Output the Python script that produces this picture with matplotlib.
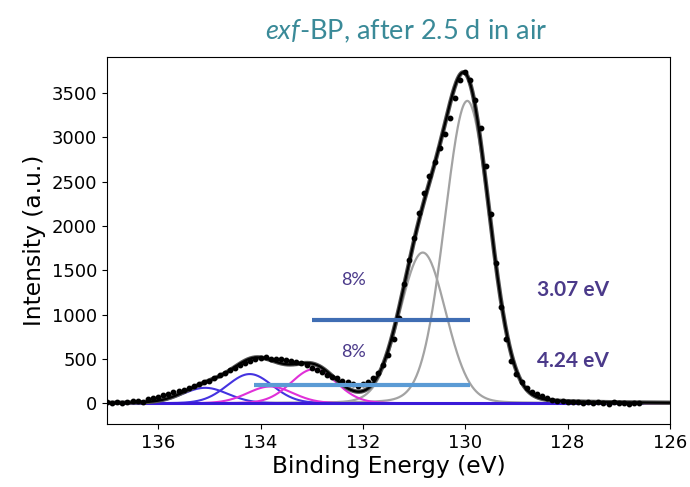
import numpy as np
import matplotlib
matplotlib.use("Agg")
import matplotlib.pyplot as plt

plt.rcParams['mathtext.fontset'] = 'custom'
plt.rcParams['mathtext.it'] = 'Lato:italic'
plt.rcParams['mathtext.rm'] = 'Lato'

# ---- measured data (binding energy, intensity) ----
energy = [137.0, 136.9, 136.8, 136.7, 136.6, 136.5, 136.4, 136.3, 136.2, 136.1,
          136.0, 135.9, 135.8, 135.7, 135.6, 135.5, 135.4, 135.3, 135.2, 135.1,
          135.0, 134.9, 134.8, 134.7, 134.6, 134.5, 134.4, 134.3, 134.2, 134.1,
          134.0, 133.9, 133.8, 133.7, 133.6, 133.5, 133.4, 133.3, 133.2, 133.1,
          133.0, 132.9, 132.8, 132.7, 132.6, 132.5, 132.4, 132.3, 132.2, 132.1,
          132.0, 131.9, 131.8, 131.7, 131.6, 131.5, 131.4, 131.3, 131.2, 131.1,
          131.0, 130.9, 130.8, 130.7, 130.6, 130.5, 130.4, 130.3, 130.2, 130.1,
          130.0, 129.9, 129.8, 129.7, 129.6, 129.5, 129.4, 129.3, 129.2, 129.1,
          129.0, 128.9, 128.8, 128.7, 128.6, 128.5, 128.4, 128.3, 128.2, 128.1,
          128.0, 127.9, 127.8, 127.7, 127.6, 127.5, 127.4, 127.3, 127.2, 127.1,
          127.0, 126.9, 126.8, 126.7, 126.6]
intensity = [15, 5, 20, 0, 10, 25, 30, 20, 45, 55,
             70, 90, 110, 125, 140, 155, 170, 190, 215, 235,
             250, 280, 320, 345, 380, 400, 430, 455, 475, 500,
             510, 520, 505, 495, 500, 490, 475, 465, 455, 430,
             400, 380, 350, 320, 300, 280, 255, 235, 220, 200,
             215, 240, 290, 340, 430, 540, 720, 960, 1340, 1620,
             1860, 2150, 2370, 2560, 2720, 2880, 3040, 3220, 3440, 3650,
             3740, 3650, 3420, 3100, 2680, 2130, 1580, 1090, 730, 480,
             330, 240, 170, 125, 105, 80, 60, 42, 30, 25,
             15, 10, 15, 5, 10, 0, 10, 5, -5, 10,
             0, 5, -5, 5, 0]

# ---- fitted components: centre (eV), height, FWHM (eV) ----
p_centres = [129.96, 130.83]
p_heights = [3410, 1700]
p_fwhm = [1.04, 1.06]

blue_centres = [134.21, 135.08]
blue_heights = [330, 175]
magenta_centres = [132.96, 133.81]
magenta_heights = [385, 190]
ox_fwhm = 1.05

bar_dark = [133.0, 129.9, 940]
bar_light = [134.13, 129.9, 204]

def pv(x, c, h, w, m=0.08):
    g = np.exp(-4 * np.log(2) * ((x - c) / w) ** 2)
    l = 1.0 / (1.0 + 4 * ((x - c) / w) ** 2)
    return h * (m * l + (1 - m) * g)

x = np.linspace(137, 126, 1200)

fig = plt.figure(figsize=(6.9, 4.87), dpi=100)
ax = fig.add_axes([0.155, 0.129, 0.816, 0.754])

comps = []
for c, h, w in zip(p_centres, p_heights, p_fwhm):
    y = pv(x, c, h, w)
    comps.append(y)
    ax.plot(x, y, color='#a3a3a3', lw=1.6, zorder=3)
for c, h in zip(blue_centres, blue_heights):
    y = pv(x, c, h, ox_fwhm)
    comps.append(y)
    ax.plot(x, y, color='#4433e0', lw=1.5, zorder=3)
for c, h in zip(magenta_centres, magenta_heights):
    y = pv(x, c, h, ox_fwhm)
    comps.append(y)
    ax.plot(x, y, color='#e030d8', lw=1.5, zorder=3)

envelope = np.sum(comps, axis=0)

ax.plot([137, 126.55], [0, 0], color='#3a1ad8', lw=2.2, zorder=4)
ax.plot(x, envelope, color='#555555', lw=3.2, zorder=5)
ax.plot(x, envelope, color='black', lw=1.6, zorder=6)
ax.plot(energy, intensity, 'o', color='black', ms=3.2, zorder=7)

ax.plot(bar_dark[:2], [bar_dark[2]] * 2, color='#3f6db3', lw=3, zorder=8,
        solid_capstyle='butt')
ax.plot(bar_light[:2], [bar_light[2]] * 2, color='#5b9bd5', lw=3, zorder=8,
        solid_capstyle='butt')

txt_color = '#4b3a8a'
ax.text(132.18, 1393, '8%', color=txt_color, fontsize=13, family='Lato',
        ha='center', va='center')
ax.text(132.18, 578, '8%', color=txt_color, fontsize=13, family='Lato',
        ha='center', va='center')
ax.text(127.9, 1280, '3.07 eV', color=txt_color, fontsize=15, family='Lato',
        fontweight='bold', ha='center', va='center')
ax.text(127.9, 476, '4.24 eV', color=txt_color, fontsize=15, family='Lato',
        fontweight='bold', ha='center', va='center')

ax.set_xlim(137, 126)
ax.set_ylim(-235, 3905)
ax.set_xticks([136, 134, 132, 130, 128, 126])
ax.set_yticks([0, 500, 1000, 1500, 2000, 2500, 3000, 3500])
ax.tick_params(labelsize=13)
ax.set_xlabel('Binding Energy (eV)', fontsize=16.8, labelpad=2)
ax.set_ylabel('Intensity (a.u.)', fontsize=16.8, labelpad=4)

fig.text(0.589, 0.936, r'$\it{exf}$-BP, after 2.5 d in air', color='#3a8a98',
         fontsize=19.5, family='Lato', ha='center', va='center')

fig.savefig('out.png', dpi=100)
